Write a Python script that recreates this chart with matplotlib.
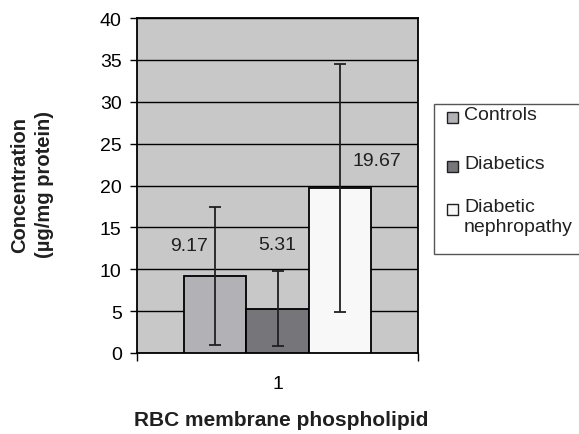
import matplotlib.pyplot as plt
from matplotlib.patches import Rectangle

plt.rcParams['font.family'] = ['Liberation Sans', 'DejaVu Sans']

groups = ['Controls', 'Diabetics', 'Diabetic\nnephropathy']
values = [9.17, 5.31, 19.67]
errors = [8.24, 4.5, 14.8]
colors = ['#b2b2b6', '#76767a', '#f8f8f8']

W, H = 579, 435
fig = plt.figure(figsize=(W / 100, H / 100), dpi=100)
ax = fig.add_axes([137 / W, 1 - 354 / H, 281 / W, 335 / H])
ax.set_facecolor('#c8c8c8')

w = 0.2224
xs = [1 - w, 1, 1 + w]
for x, v, e, c in zip(xs, values, errors, colors):
    ax.bar(x, v, width=w, color=c, edgecolor='black', linewidth=1.3, zorder=3)
    ax.errorbar(x, v, yerr=e, fmt='none', ecolor='#202020', elinewidth=1.3,
                capsize=4, capthick=1.3, zorder=4)

# value labels, shifted sideways the way the original places them
label_dx = [-0.0925, 0.0, 0.132]
label_y = [12.8, 13.0, 23.0]
for x, v, dx, ly in zip(xs, values, label_dx, label_y):
    ax.text(x + dx, ly, f'{v:.2f}', ha='center', va='center', fontsize=14, color='#202020', zorder=5)

ax.set_xlim(0.5, 1.5)
ax.set_ylim(0, 40)
ax.set_yticks(range(0, 41, 5))
ax.yaxis.grid(True, color='black', linewidth=1, zorder=1)
ax.set_axisbelow(True)
ax.set_xticks([1])
ax.set_xticklabels(['1'])
ax.set_xticks([0.5, 1.5], minor=True)
ax.tick_params(axis='x', which='major', length=0, pad=16, labelsize=14)
ax.tick_params(axis='x', which='minor', length=5.5, width=1)
ax.tick_params(axis='y', length=5, width=1, labelsize=14, pad=6)
for s in ax.spines.values():
    s.set_linewidth(1.3)

fig.text(32 / W, 1 - 185 / H, 'Concentration\n(µg/mg protein)', rotation=90,
         ha='center', va='center', fontsize=14.5, fontweight='bold',
         linespacing=1.35, color='#202020')
fig.text(281 / W, 1 - 421 / H, 'RBC membrane phospholipid', ha='center', va='center',
         fontsize=15, fontweight='bold', color='#202020')

# legend drawn by hand to follow the original's uneven spacing
fig.patches.append(Rectangle((434 / W, 1 - 255 / H), 150 / W, 150 / H,
                             transform=fig.transFigure, facecolor='white',
                             edgecolor='#555555', linewidth=1))
entry_y = [118, 167, 210]
for c, name, y in zip(colors, groups, entry_y):
    fig.patches.append(Rectangle((447 / W, 1 - (y + 6) / H), 11 / W, 11 / H,
                                 transform=fig.transFigure, facecolor=c,
                                 edgecolor='#202020', linewidth=1))
    fig.text(464 / W, 1 - (y - 11) / H, name, ha='left', va='top', fontsize=14,
             linespacing=1.2, color='#202020')

fig.savefig('out.png', dpi=100)
